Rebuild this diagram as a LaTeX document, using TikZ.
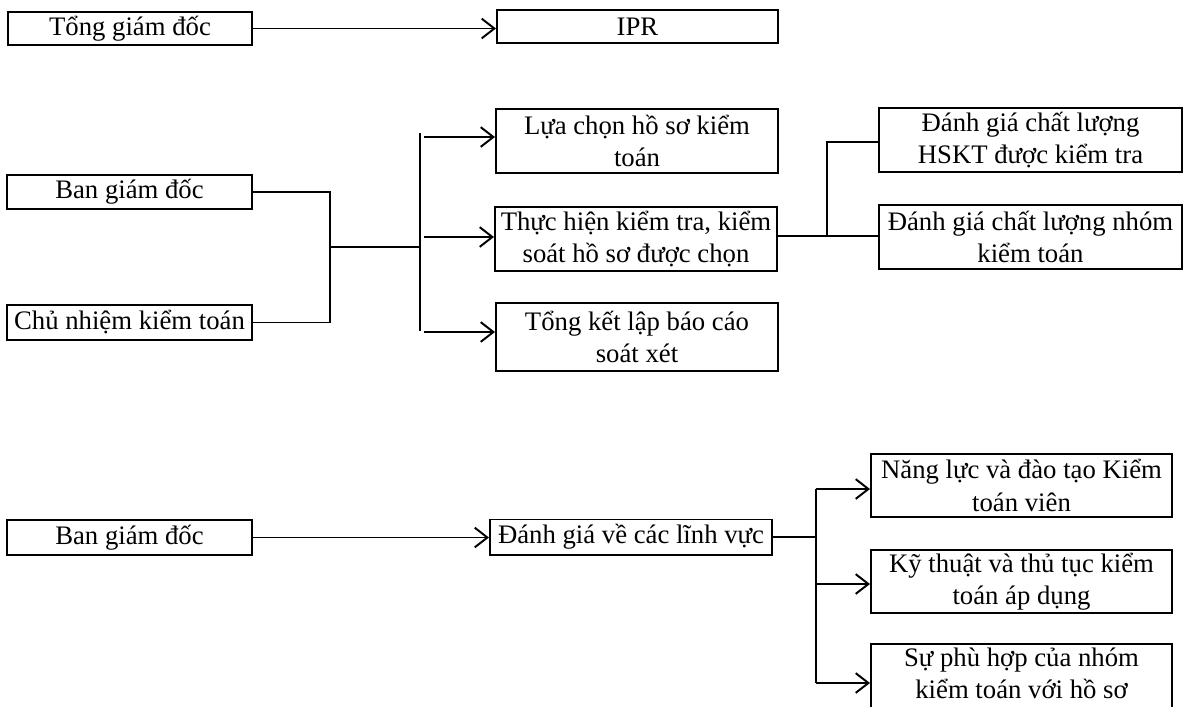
\documentclass[tikz,border=0pt]{standalone}
\usepackage{fontspec}
\setmainfont{Liberation Serif}
\usetikzlibrary{arrows.meta, positioning, calc}

\begin{document}
\begin{tikzpicture}[
    x=0.025cm, y=-0.025cm,
    box/.style={draw, line width=1.4pt, inner sep=0pt, align=center, font=\fontsize{19pt}{23pt}\selectfont},
    leftbox/.style={box, minimum width=6.1cm, minimum height=0.85cm},
    midbox/.style={box, minimum width=7.05cm, minimum height=1.6cm},
    rightbox/.style={box, minimum width=7.525cm, minimum height=1.575cm},
    link/.style={line width=1.4pt},
    arr/.style={link, -{Straight Barb[length=9pt, width=14pt, line width=1.4pt]}},
    ]
    \useasboundingbox (0,0) rectangle (1184,706);

    % Top row
    \node[leftbox, minimum height=0.825cm] (tgd) at (130,28.5) {Tổng giám đốc};
    \node[midbox, minimum width=7.025cm, minimum height=0.825cm] (ipr) at (637.5,26.5) {IPR};
    \draw[arr] (tgd.east) -- (tgd.east -| ipr.west);

    % Middle block - left side
    \node[leftbox] (bgdA) at (129.5,192) {Ban giám đốc};
    \node[leftbox, minimum height=0.875cm] (cnkt) at (129.5,322.5) {Chủ nhiệm kiểm toán};

    % Middle block - steps
    \node[midbox] (lcs) at (637,141) {Lựa chọn hồ sơ kiểm\\toán};
    \node[midbox] (thkt) at (636,239) {Thực hiện kiểm tra, kiểm\\soát hồ sơ được chọn};
    \node[midbox, minimum height=1.7cm] (tkbc) at (637,337) {Tổng kết lập báo cáo\\soát xét};

    % Middle block - right side
    \node[box, minimum width=7.575cm, minimum height=1.6cm] (dgh) at (1030.5,140) {Đánh giá chất lượng\\HSKT được kiểm tra};
    \node[box, minimum width=7.575cm, minimum height=1.6cm] (dgn) at (1030.5,237) {Đánh giá chất lượng nhóm\\kiểm toán};

    % Middle block connectors
    \coordinate (jA) at (330,247);
    \coordinate (jB) at (420,247);
    \draw[link] (bgdA.east) -| (cnkt.east -| jA) -- (cnkt.east);
    \draw[link] (jA) -- (jB);
    \draw[link] (420,133) -- (420,331);
    \draw[arr] ($(jB |- lcs.west)+(4,-4)$) -- ($(lcs.west)+(0,-4)$);
    \draw[arr] ($(jB |- thkt.west)+(4,-2)$) -- ($(thkt.west)+(0,-2)$);
    \draw[arr] ($(jB |- tkbc.west)+(4,-5)$) -- ($(tkbc.west)+(0,-5)$);

    \coordinate (jC) at (827,236);
    \draw[link] ($(thkt.east)+(0,-3)$) -- ($(thkt.east -| dgn.west)+(0,-3)$);
    \draw[link] (jC) |- ($(dgh.west)+(0,2)$);

    % Bottom block
    \node[leftbox, minimum height=0.875cm] (bgdB) at (129.5,537.5) {Ban giám đốc};
    \node[box, minimum width=7.05cm, minimum height=0.875cm] (dglv) at (631,537) {Đánh giá về các lĩnh vực};
    \node[rightbox] (nl) at (1021.5,485.5) {Năng lực và đào tạo Kiểm\\toán viên};
    \node[rightbox] (ktt) at (1021.5,581.5) {Kỹ thuật và thủ tục kiểm\\toán áp dụng};
    \node[rightbox, minimum height=1.7cm, text depth=7pt] (sph) at (1021.5,678) {Sự phù hợp của nhóm\\kiểm toán với hồ sơ};

    \draw[arr] (bgdB.east) -- (bgdB.east -| dglv.west);
    \coordinate (jD) at (816,537);
    \coordinate (jE) at (816,584);
    \coordinate (jF) at (816,683);
    \draw[link] (dglv.east) -- (jD);
    \draw[link] (816,489) -- (jF);
    \draw[arr] (816,489) -- (816,489 -| nl.west);
    \draw[arr] (jE) -- (jE -| ktt.west);
    \draw[arr] (jF) -- (jF -| sph.west);
\end{tikzpicture}
\end{document}
